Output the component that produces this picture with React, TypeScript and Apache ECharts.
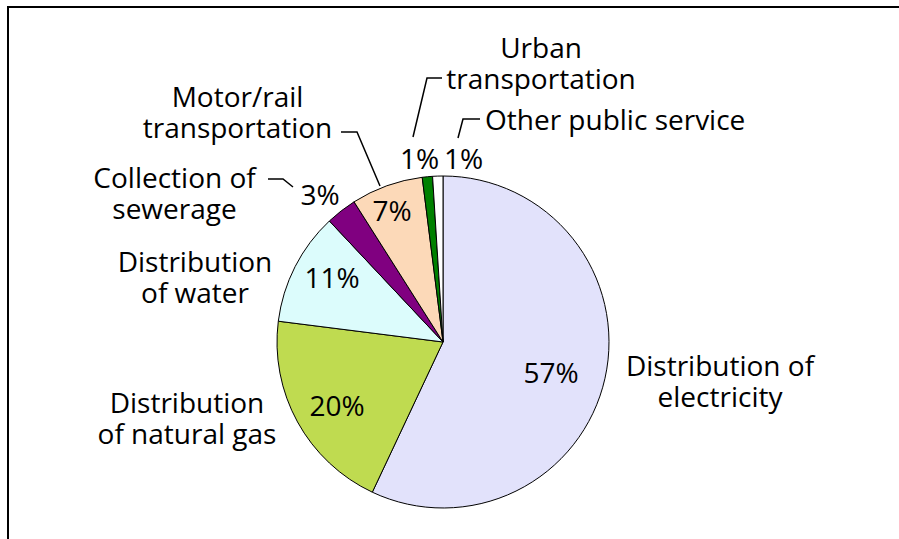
import React, { useEffect, useRef } from "react";
import * as echarts from "echarts";

// ---- data ----
const categories = [
  "Distribution of\nelectricity",
  "Distribution\nof natural gas",
  "Distribution\nof water",
  "Collection of\nsewerage",
  "Motor/rail\ntransportation",
  "Urban\ntransportation",
  "Other public service",
];
const shares = [57, 20, 11, 3, 7, 1, 1];
const colors = ["#e2e2fb", "#bfdb50", "#dcfcfc", "#800080", "#fcd9b8", "#008000", "#ffffff"];

// ---- label layout (pixel positions of annotations) ----
const pctPos: number[][] = [
  [551, 372],
  [337, 405],
  [332, 277],
  [320, 194],
  [392, 210],
  [419.5, 157.5],
  [463.5, 157.5],
];
const namePos: [number, number, string][] = [
  [720, 380, "center"],
  [187, 417.5, "center"],
  [195, 276, "center"],
  [174.5, 192.5, "center"],
  [237.5, 111, "center"],
  [541, 62, "center"],
  [485, 118.5, "left"],
];
const leaders: (number[][] | null)[] = [
  null,
  null,
  null,
  [[293, 187], [283, 179], [268, 179]],
  [[380, 186], [357, 132], [341, 132]],
  [[413, 137], [427, 78], [442, 78]],
  [[458, 138], [463, 119], [480, 119]],
];

const FONT = "Open Sans";
const FS = 28;

export default function App() {
  const ref = useRef<HTMLDivElement>(null);
  useEffect(() => {
    document.body.style.margin = "0";
    const chart = echarts.init(ref.current!, null, { renderer: "svg" });
    const center = [443, 342];
    const radius = 166;
    chart.setOption({
      animation: false,
      backgroundColor: "#ffffff",
      graphic: [
        {
          type: "line",
          shape: { x1: 7, y1: 7, x2: 899, y2: 7 },
          style: { stroke: "#000", lineWidth: 2 },
          silent: true,
        },
        {
          type: "line",
          shape: { x1: 8, y1: 6, x2: 8, y2: 539 },
          style: { stroke: "#000", lineWidth: 2 },
          silent: true,
        },
      ],
      series: [
        {
          type: "pie",
          center,
          radius,
          startAngle: 90,
          clockwise: true,
          silent: true,
          emphasis: { disabled: true },
          itemStyle: { borderColor: "#000", borderWidth: 1 },
          label: {
            show: true,
            position: "inside",
            formatter: (p: any) => p.value + "%",
            fontFamily: FONT,
            fontSize: FS,
            color: "#000",
          },
          labelLine: { show: false },
          labelLayout: (p: any) => ({
            x: pctPos[p.dataIndex][0],
            y: pctPos[p.dataIndex][1],
            align: "center",
            verticalAlign: "middle",
          }),
          data: shares.map((v, i) => ({
            value: v,
            name: categories[i],
            itemStyle: { color: colors[i] },
          })),
        },
        {
          type: "pie",
          center,
          radius,
          startAngle: 90,
          clockwise: true,
          silent: true,
          emphasis: { disabled: true },
          itemStyle: { color: "rgba(0,0,0,0)", borderWidth: 0 },
          label: {
            show: true,
            position: "outside",
            formatter: "{b}",
            overflow: "none",
            fontFamily: FONT,
            fontSize: FS,
            lineHeight: 31,
            color: "#000",
          },
          labelLine: { show: true, lineStyle: { color: "#000", width: 1.5 } },
          labelLayout: (p: any) => {
            const i = p.dataIndex;
            const r: any = {
              x: namePos[i][0],
              y: namePos[i][1],
              align: namePos[i][2],
              verticalAlign: "middle",
            };
            if (leaders[i]) r.labelLinePoints = leaders[i];
            return r;
          },
          data: shares.map((v, i) => ({
            value: v,
            name: categories[i],
            labelLine: { show: !!leaders[i] },
          })),
        },
      ],
    });
    return () => chart.dispose();
  }, []);
  return <div ref={ref} style={{ width: 899, height: 539 }} />;
}
